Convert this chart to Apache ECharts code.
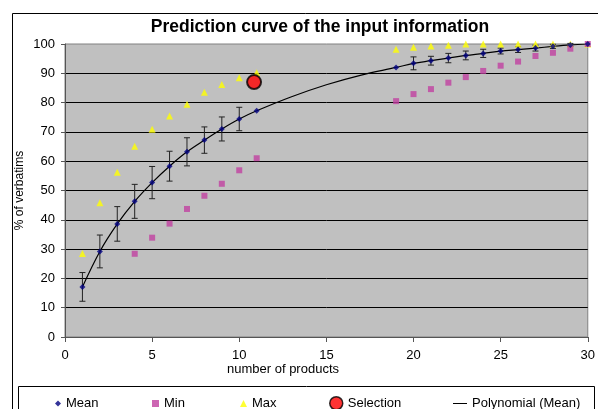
<!DOCTYPE html>
<html>
<head>
<meta charset="utf-8">
<script src="https://cdn.jsdelivr.net/npm/echarts@6/dist/echarts.min.js"></script>
<style>html,body{margin:0;padding:0;background:#fff}#c{width:598px;height:409px}</style>
</head>
<body>
<div id="c"></div>
<script>
// ---- data ----
var meanX   = [1,2,3,4,5,6,7,8,9,10,11,19,20,21,22,23,24,25,26,27,28,29,30];
var meanY   = [17.1,29.2,38.6,46.3,52.7,58.3,63.2,67.2,71.0,74.4,77.2,92.0,93.4,94.3,95.2,96.1,96.8,97.6,98.1,98.6,99.2,99.7,100];
var errHalf = [4.9,5.6,5.9,5.8,5.5,5.1,4.8,4.5,4.1,4.0,0,0,2.2,1.5,1.6,1.5,1.4,1.0,1.0,1.0,0.7,0.5,0];
var minX    = [4,5,6,7,8,9,10,11,19,20,21,22,23,24,25,26,27,28,29,30];
var minY    = [28.4,33.9,38.7,43.7,48.2,52.3,56.9,61.0,80.5,82.9,84.6,86.8,88.7,90.8,92.6,94.0,95.9,97.0,98.4,100];
var maxX    = [1,2,3,4,5,6,7,8,9,10,11,19,20,21,22,23,24,25,26,27,28,29,30];
var maxY    = [28.5,45.8,56.2,65.1,70.9,75.4,79.4,83.5,86.2,88.5,90.2,98.2,98.9,99.3,99.6,100,100,100,100,100,100,100,100];
var selection = [10.85, 87];
var polyX   = [1,2,3,4,5,6,7,8,9,10,11,13,15,17,19,20,21,22,23,24,25,26,27,28,29,30];
var polyY   = [17.1,29.2,38.6,46.3,52.7,58.3,63.2,67.2,71.0,74.4,77.2,82.0,86.1,89.4,92.0,93.4,94.3,95.2,96.1,96.8,97.6,98.1,98.6,99.2,99.7,100];
var xTicks = [0,5,10,15,20,25,30];
var yTicks = [0,10,20,30,40,50,60,70,80,90,100];

function zip(a,b){return a.map(function(v,i){return [v,b[i]];});}
var errData = meanX.map(function(x,i){return [x, meanY[i]-errHalf[i], meanY[i]+errHalf[i], errHalf[i]];}).filter(function(d){return d[3]>0;});

var FONT = '"Liberation Sans", Arial, sans-serif';
var chart = echarts.init(document.getElementById('c'), null, {renderer:'canvas'});
var legendBase = {top: 392, itemWidth: 8, itemHeight: 8, textStyle:{fontFamily:FONT,fontSize:13,color:'#000'}, selectedMode:false};
chart.setOption({
  animation:false,
  backgroundColor:'#fff',
  title:{text:'Prediction curve of the input information', left:315, textAlign:'center', top:13,
    textStyle:{fontFamily:FONT,fontSize:17.5,fontWeight:'bold',color:'#000'}},
  grid:{left:65,right:7,top:44,bottom:72,show:true,backgroundColor:'#c0c0c0',borderColor:'#808080',borderWidth:1},
  xAxis:{type:'value',min:0,max:30,interval:5,
    axisLine:{lineStyle:{color:'#555',width:1}},
    axisTick:{show:true,length:5,inside:false,lineStyle:{color:'#555'}},
    axisLabel:{fontFamily:FONT,fontSize:13,color:'#000',margin:12,formatter:function(v){return xTicks.indexOf(v)>=0?String(v):'';}},
    splitLine:{show:false}},
  yAxis:{type:'value',min:0,max:100,interval:10,
    name:'% of verbatims',nameLocation:'middle',nameGap:39,nameRotate:90,nameMoveOverlap:false,
    nameTextStyle:{fontFamily:FONT,fontSize:12,color:'#000'},
    axisLine:{show:true,lineStyle:{color:'#555',width:1}},
    axisTick:{show:true,length:4,lineStyle:{color:'#555'}},
    axisLabel:{fontFamily:FONT,fontSize:13,color:'#000',margin:10,formatter:function(v){return yTicks.indexOf(v)>=0?String(v):'';}},
    splitLine:{show:true,showMinLine:false,showMaxLine:false,lineStyle:{color:'#000',width:1}}},
  legend:[
    Object.assign({},legendBase,{left:50,data:[{name:'Mean',icon:'diamond',itemStyle:{color:'#000080'}}],itemWidth:6,itemHeight:6}),
    Object.assign({},legendBase,{left:147,data:[{name:'Min',icon:'rect',itemStyle:{color:'#c040a0'}}],itemWidth:7,itemHeight:7}),
    Object.assign({},legendBase,{left:235,data:[{name:'Max',icon:'triangle',itemStyle:{color:'#ffff00'}}],itemWidth:7,itemHeight:7}),
    Object.assign({},legendBase,{left:324,data:[{name:'Selection',icon:'circle',itemStyle:{color:'#ff0000',borderColor:'#000',borderWidth:1.5}}],itemWidth:13,itemHeight:13,top:391}),
    Object.assign({},legendBase,{left:448,data:[{name:'Polynomial (Mean)',icon:'path://M0,0L14,0L14,1L0,1Z',itemStyle:{color:'#000'}}],itemWidth:14,itemHeight:1,top:392})
  ],
  graphic:[
    {type:'rect',shape:{x:12.5,y:13.5,width:600,height:410},style:{fill:'none',stroke:'#000',lineWidth:1},silent:true,z:-10},
    {type:'rect',shape:{x:18.5,y:386.5,width:576,height:40},style:{fill:'none',stroke:'#000',lineWidth:1},silent:true,z:-10},
    {type:'text',style:{text:'number of products',x:283,y:363,textAlign:'center',fontFamily:FONT,fontSize:13,fill:'#000'},silent:true}
  ],
  series:[
    {name:'Polynomial (Mean)',type:'line',data:zip(polyX,polyY),smooth:0.35,showSymbol:false,symbol:'none',
      lineStyle:{color:'#000',width:1.2},itemStyle:{color:'#000'},z:2},
    {name:'err',type:'custom',data:errData,z:3,
      renderItem:function(params,api){
        var x=api.value(0);
        var lo=api.coord([x,api.value(1)]);
        var hi=api.coord([x,api.value(2)]);
        var w=3;
        var st={stroke:'#222',lineWidth:1};
        return {type:'group',children:[
          {type:'line',shape:{x1:lo[0],y1:lo[1],x2:hi[0],y2:hi[1]},style:st},
          {type:'line',shape:{x1:lo[0]-w,y1:lo[1],x2:lo[0]+w,y2:lo[1]},style:st},
          {type:'line',shape:{x1:hi[0]-w,y1:hi[1],x2:hi[0]+w,y2:hi[1]},style:st}
        ]};
      }},
    {name:'Max',type:'scatter',data:zip(maxX,maxY),symbol:'triangle',symbolSize:7,itemStyle:{color:'#ffff00'},z:4},
    {name:'Min',type:'scatter',data:zip(minX,minY),symbol:'rect',symbolSize:6,itemStyle:{color:'#c040a0'},z:4},
    {name:'Mean',type:'scatter',data:zip(meanX,meanY),symbol:'diamond',symbolSize:6,itemStyle:{color:'#000080'},z:5},
    {name:'Selection',type:'scatter',data:[selection],symbol:'circle',symbolSize:14,itemStyle:{color:'#ff0000',borderColor:'#000',borderWidth:2},z:6}
  ]
});
</script>
</body>
</html>
